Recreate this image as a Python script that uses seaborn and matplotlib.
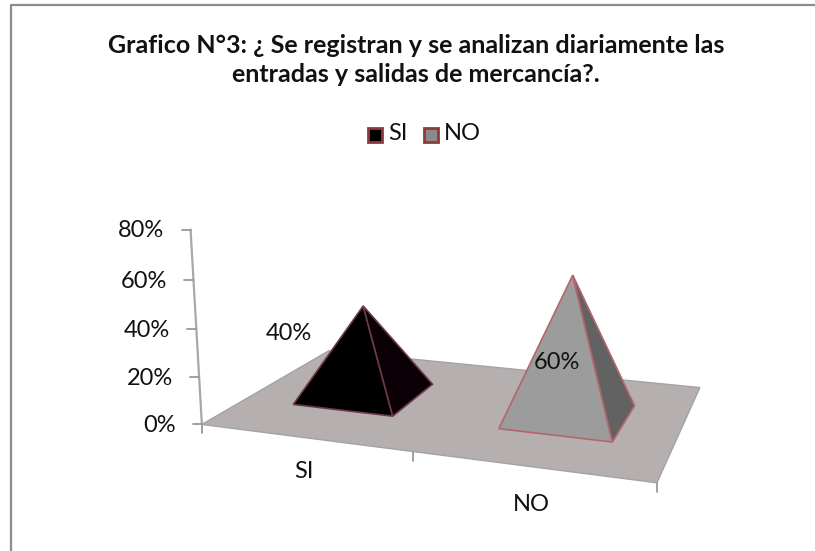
import numpy as np
import matplotlib
matplotlib.use("Agg")
import matplotlib.pyplot as plt
import seaborn as sns
from matplotlib.patches import Polygon, Rectangle

# Datos del grafico
categorias = ["SI", "NO"]
valores = [40, 60]
ticks_y = [0, 20, 40, 60, 80]
titulo = "Grafico N°3: ¿ Se registran y se analizan diariamente las\nentradas y salidas de mercancía?."

sns.set_theme(style="white")
plt.rcParams["font.family"] = ["Lato", "DejaVu Sans"]

# Camara: puntos (categoria, profundidad, valor) -> pixel de la imagen
puntos_3d = [(0, 0, 0), (1, 0, 0), (2, 0, 0), (2, 1, 0), (0, 1, 0), (0, 0, 80), (0.5, 0.5, 40), (1.5, 0.5, 60)]
puntos_px = [(202, 424), (413, 453), (657, 482), (700, 387), (329, 351), (191, 229), (362, 306), (573, 276)]

A = []
b = []
for (X, Y, Z), (px, py) in zip(puntos_3d, puntos_px):
    A.append([X, Y, Z, 1, 0, 0, 0, 0, -px * X, -px * Y, -px * Z])
    b.append(px)
    A.append([0, 0, 0, 0, X, Y, Z, 1, -py * X, -py * Y, -py * Z])
    b.append(py)
P = np.append(np.linalg.lstsq(np.array(A, float), np.array(b, float), rcond=None)[0], 1).reshape(3, 4)


def proyectar(u, d, v=0):
    x, y, w = P @ np.array([u, d, v, 1.0])
    return x / w, y / w


fig = plt.figure(figsize=(8.15, 5.51), dpi=100)
ax = fig.add_axes([0, 0, 1, 1])
ax.set_xlim(0, 815)
ax.set_ylim(551, 0)
ax.axis("off")

# Marco
ax.plot([11, 11, 815], [551, 5, 5], color="#8c8c8c", lw=1.6)

# Piso
piso = [proyectar(0, 0), proyectar(2, 0), proyectar(2, 1), proyectar(0, 1)]
ax.add_patch(Polygon(piso, closed=True, fc="#b6afaf", ec="#a3a3a3", lw=1, zorder=1))

# Eje de valores
gris = "#9a9a9a"
ax.plot(*zip(proyectar(0, 0, 0), proyectar(0, 0, ticks_y[-1])), color="#a8a8a8", lw=1.6, zorder=2)
for t in ticks_y:
    x, y = proyectar(0, 0, t)
    ax.plot([x - 9, x], [y, y], color=gris, lw=1.3, zorder=2)
    ax.text(x - 26, y + 1, f"{t}%", ha="right", va="center", fontsize=17, color="#111111")

# Eje de categorias
for i in range(len(categorias) + 1):
    x, y = proyectar(i, 0)
    ax.plot([x, x], [y, y + 9], color=gris, lw=1.3, zorder=2)

desp_cat = [(0, 34), (1, 38)]
for i, c in enumerate(categorias):
    x, y = proyectar(i + 0.5, 0)
    ax.text(x + desp_cat[i][0], y + desp_cat[i][1], c, ha="center", va="center", fontsize=17, color="#111111")

# Piramides
caras = [("#000000", "#0a0006"), ("#9c9c9c", "#626262")]
bordes = ["#6b3a45", "#b5656d"]
desp_val = [(-74.5, 27), (-16, 87)]
a = 0.25
h = 0.2
for i, v in enumerate(valores):
    u = i + 0.5
    fi = proyectar(u - a, 0.5 - h)
    fd = proyectar(u + a, 0.5 - h)
    td = proyectar(u + a, 0.5 + h)
    cima = proyectar(u, 0.5, v)
    ax.add_patch(Polygon([fi, fd, cima], closed=True, fc=caras[i][0], ec=bordes[i], lw=1.2, zorder=3))
    ax.add_patch(Polygon([fd, td, cima], closed=True, fc=caras[i][1], ec=bordes[i], lw=1.2, zorder=3))
    ax.text(cima[0] + desp_val[i][0], cima[1] + desp_val[i][1], f"{v}%", ha="center", va="center",
            fontsize=17, color="#111111", zorder=4)

# Leyenda
for c, x0, xt, col in zip(categorias, [368, 424], [398, 462], ["#000000", "#8a8a8a"]):
    ax.add_patch(Rectangle((x0, 128), 14, 14, fc=col, ec="#8f3a3a", lw=2))
    ax.text(xt, 134, c, ha="center", va="center", fontsize=17, color="#111111")

ax.text(416, 60, titulo, ha="center", va="center", fontsize=18, fontweight="bold", color="#111111", linespacing=1.32)

fig.savefig("out.png", dpi=100)
